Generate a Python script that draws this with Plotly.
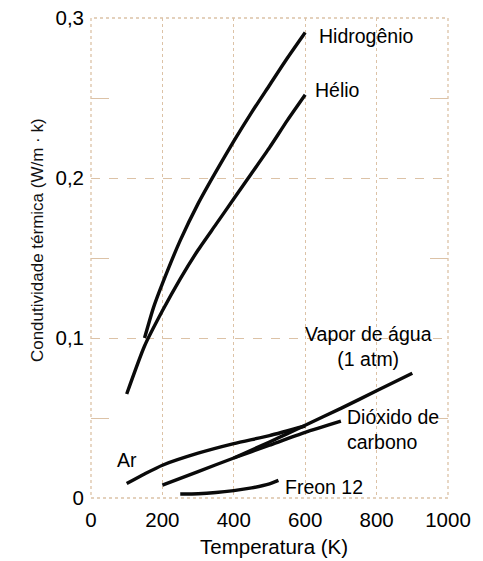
import plotly.graph_objects as go

# ---- data ----
h2_T = [150, 175, 200, 250, 300, 350, 400, 450, 500, 550, 600]
h2_k = [0.100, 0.119, 0.134, 0.161, 0.184, 0.204, 0.223, 0.241, 0.258, 0.275, 0.291]

he_T = [100, 150, 200, 250, 300, 350, 400, 450, 500, 550, 600]
he_k = [0.065, 0.095, 0.117, 0.137, 0.155, 0.171, 0.187, 0.203, 0.219, 0.236, 0.252]

air_T = [100, 150, 200, 300, 400, 500, 600]
air_k = [0.009, 0.015, 0.0205, 0.028, 0.034, 0.039, 0.045]

vap_T = [400, 500, 600, 700, 800, 900]
vap_k = [0.025, 0.035, 0.0455, 0.056, 0.067, 0.078]

co2_T = [200, 300, 400, 500, 600, 700]
co2_k = [0.008, 0.0165, 0.025, 0.033, 0.041, 0.048]

fr_T = [250, 300, 350, 400, 450, 500, 525]
fr_k = [0.0025, 0.0027, 0.0034, 0.0046, 0.0063, 0.0088, 0.011]

x_ticks = [0, 200, 400, 600, 800, 1000]
x_ticktext = ["0", "200", "400", "600", "800", "1000"]
y_ticks = [0, 0.1, 0.2, 0.3]
y_ticktext = ["0", "0,1", "0,2", "0,3"]
y_minor = [0.05, 0.15, 0.25]

labels = [
    ("Hidrogênio", 633, 0.289, "left"),
    ("Hélio", 622, 0.255, "left"),
    ("Vapor de água<br>(1 atm)", 777, 0.095, "center"),
    ("Dióxido de<br>carbono", 711, 0.043, "left"),
    ("Ar", 101, 0.024, "center"),
    ("Freon 12", 538, 0.0069, "left"),
]

FONT = "Liberation Sans, Arial, sans-serif"
TAN = "#dcc2a6"
INK = "#000000"

fig = go.Figure()
for T, k in [(h2_T, h2_k), (he_T, he_k), (air_T, air_k),
             (vap_T, vap_k), (co2_T, co2_k), (fr_T, fr_k)]:
    fig.add_trace(go.Scatter(x=T, y=k, mode="lines",
                             line=dict(color="#0a0a0a", width=3.4, shape="spline", smoothing=0.6),
                             showlegend=False, hoverinfo="skip"))

for text, x, y, anchor in labels:
    fig.add_annotation(x=x, y=y, xref="x", yref="y", text=text, showarrow=False,
                       xanchor=anchor, yanchor="middle", align=anchor,
                       font=dict(family=FONT, size=19.5, color=INK))

# axis titles
fig.add_annotation(x=0.513, y=-0.102, xref="paper", yref="paper", text="Temperatura (K)",
                   showarrow=False, xanchor="center", yanchor="middle",
                   font=dict(family=FONT, size=20.5, color=INK))
fig.add_annotation(x=-0.151, y=0.5375, xref="paper", yref="paper",
                   text="Condutividade térmica (W/m · k)", textangle=-90,
                   showarrow=False, xanchor="center", yanchor="middle",
                   font=dict(family=FONT, size=17, color="#111111"))

# frame
fig.add_shape(type="rect", xref="paper", yref="paper", x0=0, y0=0, x1=1, y1=1,
              line=dict(color=TAN, width=1.3, dash="dot"), layer="below")

fig.update_layout(
    xaxis=dict(range=[0, 1000], tickvals=x_ticks, ticktext=x_ticktext, automargin=False,
               showgrid=True, gridcolor=TAN, griddash="dot", gridwidth=1.2,
               zeroline=False, showline=False, ticks="", ticklabelstandoff=7,
               tickfont=dict(family=FONT, size=20.5, color=INK)),
    yaxis=dict(range=[0, 0.3], tickvals=y_ticks, ticktext=y_ticktext, automargin=False,
               showgrid=True, gridcolor=TAN, griddash="dash", gridwidth=1.2,
               zeroline=False, showline=False, ticks="", ticklabelstandoff=6,
               minor=dict(tickvals=y_minor, ticks="inside", ticklen=18,
                          tickcolor=TAN, tickwidth=1.3, showgrid=False),
               tickfont=dict(family=FONT, size=20.5, color=INK)),
    yaxis2=dict(range=[0, 0.3], overlaying="y", side="right", matches="y", automargin=False,
                tickvals=y_ticks, showticklabels=False, showgrid=False,
                zeroline=False, showline=False, ticks="",
                minor=dict(tickvals=y_minor, ticks="inside", ticklen=18,
                           tickcolor=TAN, tickwidth=1.3, showgrid=False)),
)
# invisible trace to activate the mirrored tick axis
fig.add_trace(go.Scatter(x=[None], y=[None], yaxis="y2", showlegend=False, hoverinfo="skip"))

fig.update_layout(width=483, height=561,
                  margin=dict(l=91, r=35, t=18, b=63, autoexpand=False),
                  paper_bgcolor="white", plot_bgcolor="white")

fig.write_html("out.html")
